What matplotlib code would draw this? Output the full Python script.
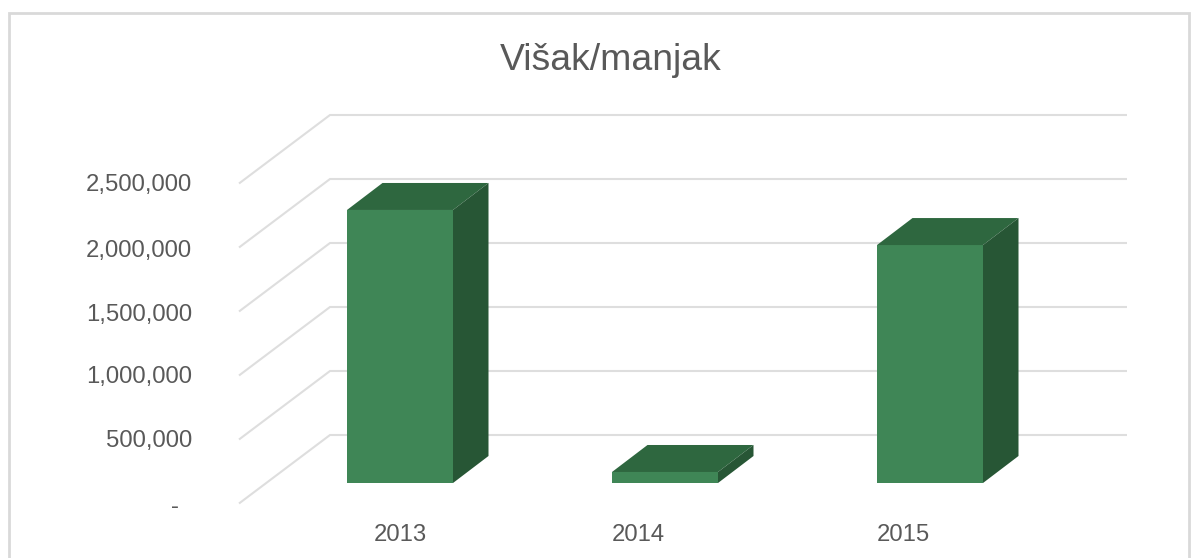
import matplotlib
matplotlib.use("Agg")
import matplotlib.pyplot as plt
from matplotlib.lines import Line2D
from matplotlib.patches import Polygon

plt.rcParams['font.family'] = ['Liberation Sans', 'DejaVu Sans']

# Data
title = "Višak/manjak"
categories = ["2013", "2014", "2015"]
values = [2133000, 86000, 1859000]
tick_values = [0, 500000, 1000000, 1500000, 2000000, 2500000]
tick_labels = ["-", "500,000", "1,000,000", "1,500,000", "2,000,000", "2,500,000"]

# Layout (pixels)
W, H = 1200, 558
CAT_PX = 265.0        # spacing of categories
X0_PX = 400.0         # centre of first bar
Y0_PX = 483.0         # zero level at the bars' front plane
PX_PER_VALUE = 64.0 / 500000.0
BAR_W = 106.0 / CAT_PX
DX, DY = 35.5 / CAT_PX, 27.0 / PX_PER_VALUE     # bar depth
GRID_FRONT = (-161.0 / CAT_PX, -20.5 / PX_PER_VALUE)
GRID_BACK = (-70.0 / CAT_PX, 48.0 / PX_PER_VALUE)
GRID_RIGHT = (1127.0 - X0_PX) / CAT_PX
LABEL_SHIFT_PX = [0, -27, -27]
TICK_SHIFT_PX = [3, 1, 1, 3, 4, 1]
TICK_GAP_PX = [60, 47, 47, 47, 47, 47]

FRONT, TOP, SIDE = "#3F8656", "#2E673F", "#275635"
GRID, TEXT = "#DEDEDE", "#595959"

fig = plt.figure(figsize=(W / 100, H / 100), dpi=100, facecolor="white")
ax = fig.add_axes([0, 0, 1, 1])
ax.set_xlim(-X0_PX / CAT_PX, (W - X0_PX) / CAT_PX)
ax.set_ylim(-(H - Y0_PX) / PX_PER_VALUE, Y0_PX / PX_PER_VALUE)
ax.axis("off")

# Chart frame: runs off the bottom of the picture
def fx(p): return p / W
def fy(p): return 1 - p / H
fig.add_artist(Line2D([fx(9), fx(9), fx(1189), fx(1189)],
                      [fy(H + 5), fy(13), fy(13), fy(H + 5)],
                      color="#D9D9D9", lw=2.0, solid_joinstyle="miter"))

# Gridlines: floor-side slanted part, then the back wall
for v, lab, shift, gap in zip(tick_values, tick_labels, TICK_SHIFT_PX, TICK_GAP_PX):
    xf, yf = GRID_FRONT[0], v + GRID_FRONT[1]
    xb, yb = GRID_BACK[0], v + GRID_BACK[1]
    ax.plot([xf, xb, GRID_RIGHT], [yf, yb, yb], color=GRID, lw=1.5,
            solid_joinstyle="miter", solid_capstyle="butt", zorder=1)
    ax.text(xf - gap / CAT_PX, yf - shift / PX_PER_VALUE, lab, ha="right", va="center",
            fontsize=17.2, color=TEXT)

# 3-D bars
for i, (c, v) in enumerate(zip(categories, values)):
    l, r = i - BAR_W / 2, i + BAR_W / 2
    ax.add_patch(Polygon([(l, 0), (r, 0), (r, v), (l, v)], closed=True,
                         facecolor=FRONT, edgecolor="none", zorder=3))
    ax.add_patch(Polygon([(l, v), (r, v), (r + DX, v + DY), (l + DX, v + DY)], closed=True,
                         facecolor=TOP, edgecolor="none", zorder=3))
    ax.add_patch(Polygon([(r, 0), (r + DX, DY), (r + DX, v + DY), (r, v)], closed=True,
                         facecolor=SIDE, edgecolor="none", zorder=3))
    ax.text(i + LABEL_SHIFT_PX[i] / CAT_PX, -52 / PX_PER_VALUE, c, ha="center", va="center",
            fontsize=17.2, color=TEXT)

ax.text(0.5092, fy(60), title, transform=ax.transAxes, ha="center", va="center",
        fontsize=26.9, color=TEXT)

fig.savefig("out.png", dpi=100, facecolor="white")
